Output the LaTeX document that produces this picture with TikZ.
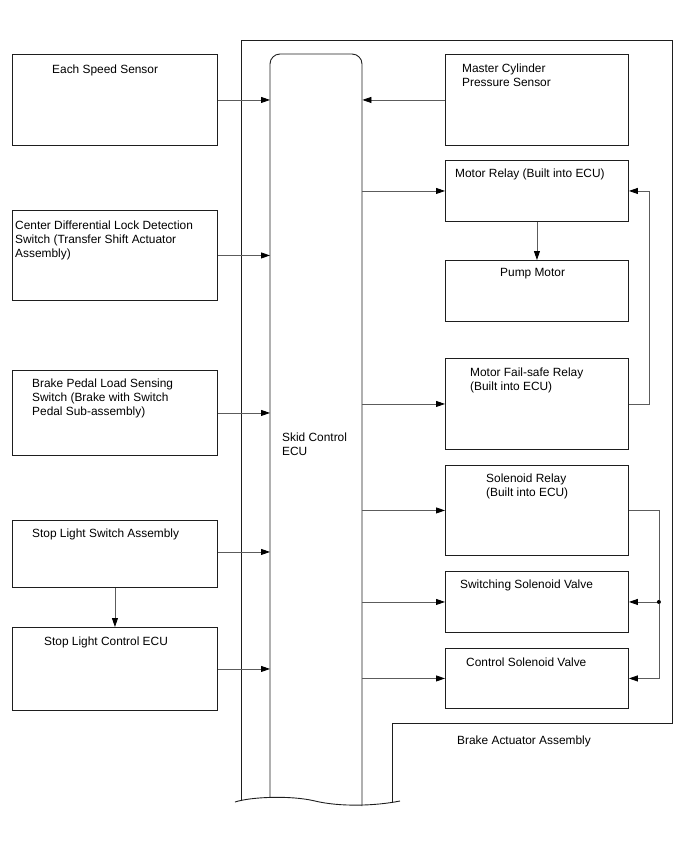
\documentclass[tikz,border=0pt]{standalone}
\usepackage{fontspec}
\setmainfont{Liberation Sans}
\usetikzlibrary{arrows.meta,positioning}
\definecolor{abBorder}{HTML}{1E1E1E}
\definecolor{abWire}{HTML}{5C5C5C}

\begin{document}
\begin{tikzpicture}[x=1pt,y=-1pt,
        box/.style={
            draw=abBorder,
            line width=0.9pt,
            anchor=north west,
            inner sep=0pt
        },
        txt/.style={
            anchor=north west,
            inner sep=0pt,
            align=left,
            font=\fontsize{11.9}{14}\selectfont
        },
        outline/.style={
            draw=abBorder,
            line width=0.9pt
        },
        arrow/.style={
            -{Triangle[length=9pt,width=6pt,color=black]},
            line width=0.8pt,
            draw=abWire
        },
        wire/.style={
            line width=0.8pt,
            draw=abWire
        }
    ]
    \useasboundingbox (0,0) rectangle (688,852);

    % brake actuator assembly and ECU
    \draw[outline] (241,801) -- (241,40) -- (672,40) -- (672,723) -- (392,723) -- (392,803);
    \draw[outline, rounded corners=10pt] (270,797) -- (270,54) -- (362,54) -- (362,806);
    \draw[outline] (235,802) .. controls (250,797) and (290,795) .. (315,801)
        .. controls (340,807) and (375,806) .. (400,801);
    \node[anchor=north west, inner sep=0pt, minimum width=92pt, minimum height=740pt] (ecu) at (270,54) {};
    \node[txt] (ecutxt) at (282,432.5) {Skid Control\\ECU};
    \node[txt] (acttxt) at (457,735.5) {Brake Actuator Assembly};

    % inputs
    \node[box, minimum width=205pt, minimum height=91pt] (speed) at (12,54) {};
    \node[box, minimum width=205pt, minimum height=90pt] (cdl) at (12,210) {};
    \node[box, minimum width=205pt, minimum height=85pt] (pedal) at (12,370) {};
    \node[box, minimum width=205pt, minimum height=67pt] (stopsw) at (12,520) {};
    \node[box, minimum width=205pt, minimum height=83pt] (stopecu) at (12,627) {};
    \node[box, minimum width=183pt, minimum height=91pt] (mcps) at (445,54) {};

    \node[txt] (speedtxt) at (52,64.5) {Each Speed Sensor};
    \node[txt] (cdltxt) at (15,220.5) {Center Differential Lock Detection\\Switch (Transfer Shift Actuator\\Assembly)};
    \node[txt] (pedaltxt) at (32,378.5) {Brake Pedal Load Sensing\\Switch (Brake with Switch\\Pedal Sub-assembly)};
    \node[txt] (stopswtxt) at (32,528.5) {Stop Light Switch Assembly};
    \node[txt] (stopecutxt) at (44,636.5) {Stop Light Control ECU};
    \node[txt] (mcpstxt) at (462,63.5) {Master Cylinder\\Pressure Sensor};

    % outputs
    \node[box, minimum width=183pt, minimum height=61pt] (mrelay) at (445,160) {};
    \node[box, minimum width=183pt, minimum height=61pt] (pump) at (445,260) {};
    \node[box, minimum width=183pt, minimum height=91pt] (fsrelay) at (445,358) {};
    \node[box, minimum width=183pt, minimum height=90pt] (srelay) at (445,465) {};
    \node[box, minimum width=183pt, minimum height=61pt] (swvalve) at (445,571) {};
    \node[box, minimum width=183pt, minimum height=60pt] (ctvalve) at (445,648) {};

    \node[txt] (mrelaytxt) at (455,168.5) {Motor Relay (Built into ECU)};
    \node[txt] (pumptxt) at (500,268.5) {Pump Motor};
    \node[txt] (fsrelaytxt) at (470,367.5) {Motor Fail-safe Relay\\(Built into ECU)};
    \node[txt] (srelaytxt) at (486,473.5) {Solenoid Relay\\(Built into ECU)};
    \node[txt] (swvalvetxt) at (460,579.5) {Switching Solenoid Valve};
    \node[txt] (ctvalvetxt) at (466,657.5) {Control Solenoid Valve};

    % signal lines
    \draw[arrow] (speed.east) -- (speed.east -| ecu.west);
    \draw[arrow] (cdl.east) -- (cdl.east -| ecu.west);
    \draw[arrow] (pedal.east) -- (pedal.east -| ecu.west);
    \draw[arrow] ([yshift=2pt]stopsw.east) -- ([yshift=2pt]stopsw.east -| ecu.west);
    \draw[arrow] (stopecu.east) -- (stopecu.east -| ecu.west);
    \draw[arrow] (stopsw.south) -- (stopecu.north);
    \draw[arrow] (mcps.west) -- (mcps.west -| ecu.east);

    \draw[arrow] (mrelay.west -| ecu.east) -- (mrelay.west);
    \draw[arrow] (fsrelay.west -| ecu.east) -- (fsrelay.west);
    \draw[arrow] (srelay.west -| ecu.east) -- (srelay.west);
    \draw[arrow] (swvalve.west -| ecu.east) -- (swvalve.west);
    \draw[arrow] (ctvalve.west -| ecu.east) -- (ctvalve.west);
    \draw[arrow] (mrelay.south) -- (pump.north);

    \draw[arrow] (fsrelay.east) -- ++(20,0) |- (mrelay.east);
    \coordinate (sbus) at ([xshift=30pt]srelay.east);
    \node[circle, fill=black, inner sep=0pt, minimum size=4pt] (sdot) at (sbus |- swvalve.east) {};
    \draw[wire] (srelay.east) -- (sbus) -- (sdot);
    \draw[arrow] (sdot) |- (ctvalve.east);
    \draw[arrow] (sdot) -- (swvalve.east);

\end{tikzpicture}
\end{document}
